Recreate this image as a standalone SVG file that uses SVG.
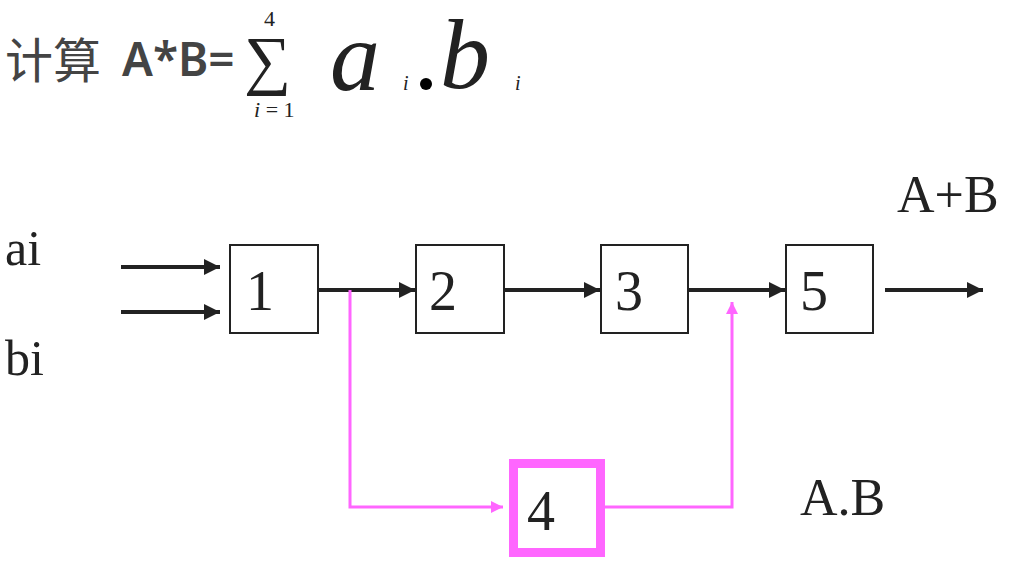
<svg xmlns="http://www.w3.org/2000/svg" width="1035" height="585" viewBox="0 0 1035 585">
<style>
.t{font-family:"Liberation Serif",serif;fill:#222}
.box{fill:#fff;stroke:#222;stroke-width:2}
.blk{stroke:#222;stroke-width:4;fill:none}
.pk{stroke:#ff66ff;stroke-width:3;fill:none}
</style>
<defs>
<marker id="ah" viewBox="0 0 10 10" refX="10" refY="5" markerWidth="4" markerHeight="4" markerUnits="strokeWidth" orient="auto"><path d="M0,0L10,5L0,10z" fill="#222"/></marker>
<marker id="ap" viewBox="0 0 10 10" refX="10" refY="5" markerWidth="4" markerHeight="4" markerUnits="strokeWidth" orient="auto"><path d="M0,0L10,5L0,10z" fill="#ff66ff"/></marker>
</defs>
<rect width="1035" height="585" fill="#fff"/>
<text x="5" y="78" font-family="'Noto Sans CJK SC',sans-serif" font-size="48" fill="#444">计算</text>
<text x="122" y="76" font-family="'Noto Sans','Open Sans',sans-serif" font-size="46" font-weight="600" fill="#444">A*B=</text>
<text x="244" y="82" class="t" font-size="66" fill="#000">∑</text>
<text x="264" y="26" class="t" font-size="22">4</text>
<text x="254" y="117" class="t" font-size="22"><tspan font-style="italic">i</tspan> = 1</text>
<text x="330" y="90" class="t" font-size="100" font-style="italic" fill="#000">a</text>
<text x="403" y="90" class="t" font-size="20" font-style="italic">i</text>
<circle cx="426" cy="84" r="6" fill="#000"/>
<text x="440" y="88" class="t" font-size="100" font-style="italic" fill="#000">b</text>
<text x="515" y="90" class="t" font-size="20" font-style="italic">i</text>
<text x="5" y="265" class="t" font-size="50">ai</text>
<text x="5" y="375" class="t" font-size="50">bi</text>
<text x="897" y="212" class="t" font-size="52">A+B</text>
<text x="800" y="515" class="t" font-size="52">A.B</text>
<g id="connectors">
<line class="blk" x1="121" y1="267" x2="220" y2="267" marker-end="url(#ah)"/>
<line class="blk" x1="121" y1="312" x2="220" y2="312" marker-end="url(#ah)"/>
<line class="blk" x1="318" y1="290" x2="415" y2="290" marker-end="url(#ah)"/>
<line class="blk" x1="504" y1="290" x2="600" y2="290" marker-end="url(#ah)"/>
<line class="blk" x1="688" y1="290" x2="785" y2="290" marker-end="url(#ah)"/>
<line class="blk" x1="885" y1="290" x2="983" y2="290" marker-end="url(#ah)"/>
<polyline class="pk" points="350,290 350,507 503,507" marker-end="url(#ap)"/>
<polyline class="pk" points="605,507 732,507 732,302" marker-end="url(#ap)"/>
</g>
<g id="n1"><rect class="box" x="230" y="245" width="88" height="88"/><text x="246" y="310" class="t" font-size="56">1</text></g>
<g id="n2"><rect class="box" x="416" y="245" width="88" height="88"/><text x="429" y="310" class="t" font-size="56">2</text></g>
<g id="n3"><rect class="box" x="601" y="245" width="87" height="88"/><text x="615" y="310" class="t" font-size="56">3</text></g>
<g id="n5"><rect class="box" x="786" y="245" width="87" height="88"/><text x="800" y="310" class="t" font-size="56">5</text></g>
<g id="n4"><rect x="513.5" y="463.5" width="87" height="89" fill="#fff" stroke="#ff66ff" stroke-width="9"/><text x="527" y="530" class="t" font-size="56">4</text></g>
</svg>
